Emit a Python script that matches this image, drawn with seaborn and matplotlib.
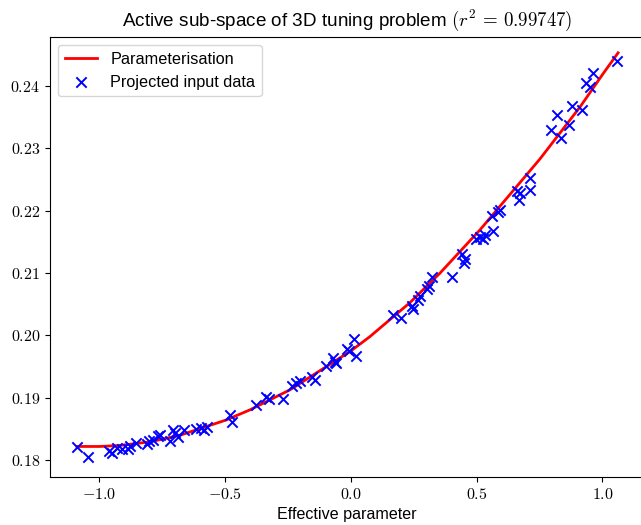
import numpy as np
import pandas as pd
import matplotlib
matplotlib.use("Agg")
import matplotlib.pyplot as plt
import seaborn as sns
from matplotlib.ticker import FuncFormatter

# puntos proyectados
x_data = [-1.089, -1.046, -0.960, -0.950, -0.930, -0.911, -0.887, -0.879, -0.855, -0.811,
          -0.803, -0.787, -0.767, -0.759, -0.720, -0.708, -0.700, -0.688, -0.664, -0.614,
          -0.594, -0.584, -0.573, -0.481, -0.471, -0.376, -0.336, -0.324, -0.270, -0.233,
          -0.217, -0.203, -0.153, -0.143, -0.099, -0.072, -0.064, -0.058, -0.014, -0.006,
          0.014, 0.020, 0.169, 0.201, 0.241, 0.247, 0.266, 0.274, 0.304, 0.312,
          0.324, 0.402, 0.443, 0.449, 0.455, 0.499, 0.513, 0.525, 0.533, 0.563,
          0.559, 0.583, 0.592, 0.660, 0.670, 0.672, 0.710, 0.710, 0.795, 0.821,
          0.837, 0.865, 0.879, 0.918, 0.934, 0.950, 0.962, 1.058]
y_data = [0.18201, 0.18048, 0.18144, 0.18112, 0.18185, 0.18169, 0.18169, 0.18217, 0.18265, 0.18257,
          0.18297, 0.18321, 0.18377, 0.18401, 0.18297, 0.18482, 0.18433, 0.18369, 0.18482, 0.18490,
          0.18514, 0.18474, 0.18530, 0.18722, 0.18602, 0.18883, 0.19011, 0.18971, 0.18971, 0.19188,
          0.19236, 0.19268, 0.19324, 0.19284, 0.19509, 0.19637, 0.19573, 0.19557, 0.19782, 0.19750,
          0.19934, 0.19669, 0.20319, 0.20271, 0.20464, 0.20424, 0.20568, 0.20624, 0.20737, 0.20785,
          0.20929, 0.20929, 0.21299, 0.21162, 0.21218, 0.21547, 0.21571, 0.21539, 0.21604, 0.21668,
          0.21909, 0.21973, 0.22005, 0.22318, 0.22165, 0.22286, 0.22518, 0.22326, 0.23297, 0.23538,
          0.23161, 0.23377, 0.23682, 0.23610, 0.24051, 0.23979, 0.24212, 0.24396]

# curva de parametrizacion
curve_x = [-1.089, -0.998, -0.918, -0.799, -0.680, -0.497, -0.402, -0.243, 0.0,
           0.076, 0.235, 0.354, 0.513, 0.751, 0.911, 1.002, 1.062]
curve_y = [0.18217, 0.18217, 0.18233, 0.18291, 0.18396, 0.18640, 0.18803, 0.19124, 0.19750,
           0.19981, 0.20526, 0.20998, 0.21692, 0.22828, 0.23666, 0.24196, 0.24533]

r2 = 0.99747

plt.rcParams["font.family"] = ["Liberation Sans", "DejaVu Sans"]
plt.rcParams["mathtext.fontset"] = "cm"

df_pts = pd.DataFrame({"x": x_data, "y": y_data})
df_curve = pd.DataFrame({"x": curve_x, "y": curve_y})

fig = plt.figure(figsize=(6.41, 5.25), dpi=100)
ax = fig.add_axes([50 / 641, 48 / 525, 594 / 641, 440 / 525])

sns.lineplot(data=df_curve, x="x", y="y", color="red", linewidth=2,
             sort=False, label="Parameterisation", ax=ax)
sns.scatterplot(data=df_pts, x="x", y="y", marker="x", color="blue", s=55,
                linewidth=1.4, label="Projected input data", ax=ax, zorder=3)

ax.set_xlim(-1.196, 1.165)
ax.set_ylim(0.17727, 0.24787)
ax.set_xticks([-1.0, -0.5, 0.0, 0.5, 1.0])
ax.set_yticks([0.18, 0.19, 0.20, 0.21, 0.22, 0.23, 0.24])
ax.xaxis.set_major_formatter(FuncFormatter(lambda v, p: "$%.1f$" % v))
ax.yaxis.set_major_formatter(FuncFormatter(lambda v, p: "$%.2f$" % v))
ax.tick_params(labelsize=11.5)

ax.set_xlabel("Effective parameter", fontsize=11.6)
ax.set_ylabel("")
ax.set_title("Active sub-space of 3D tuning problem $(r^2 \\,=\\, %.5f)$" % r2,
             fontsize=13.6, pad=8)
ax.legend(loc="upper left", fontsize=11.7)

fig.savefig("out.png", dpi=100)
